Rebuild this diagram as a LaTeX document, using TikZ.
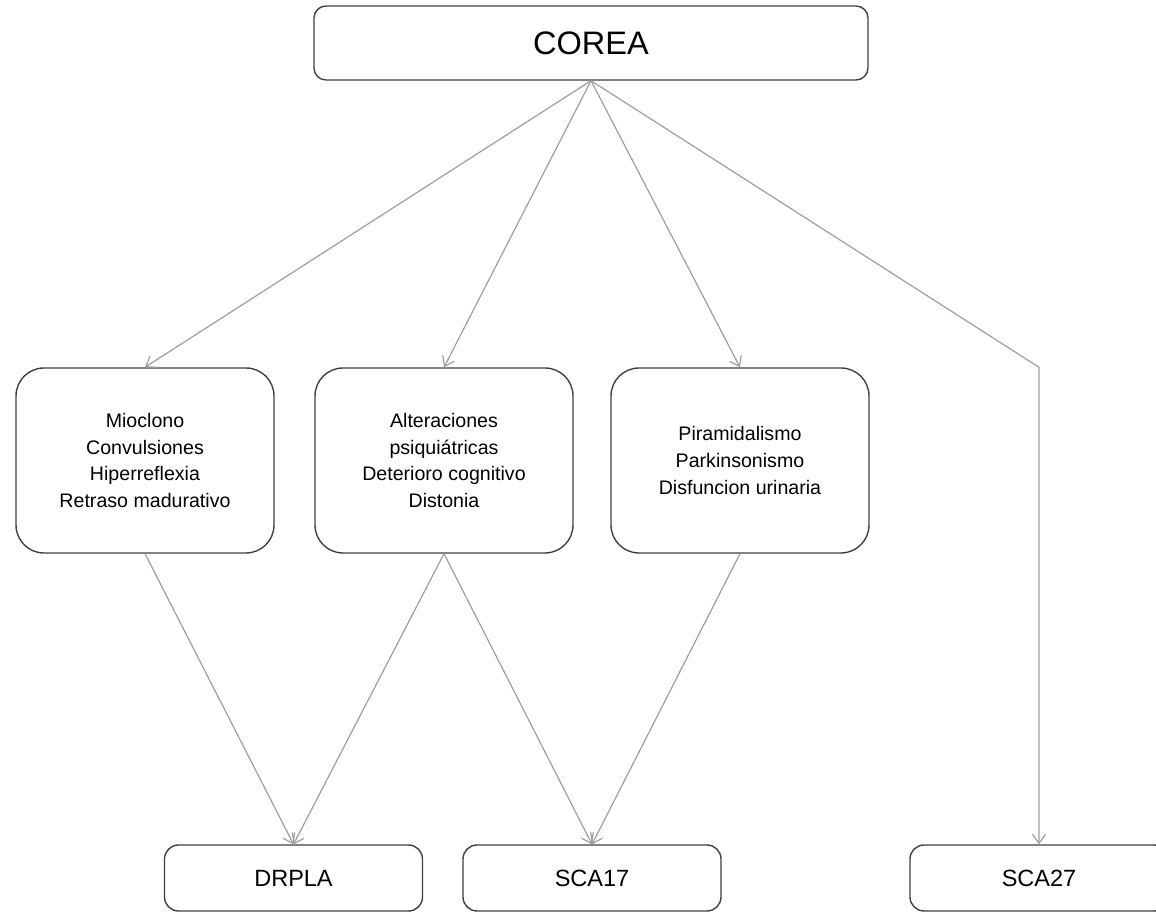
\documentclass[tikz,border=0pt]{standalone}
\usepackage{fontspec}
\setmainfont{Liberation Sans}
\usepackage{tikz}
\usetikzlibrary{arrows.meta}

\begin{document}
\begin{tikzpicture}[x=1pt,y=1pt,
  topbox/.style={draw=black!75, line width=1.4pt, rounded corners=12pt, minimum width=554pt, minimum height=74pt, inner sep=0pt, font=\fontsize{32.5}{38}\selectfont},
  signbox/.style={draw=black!75, line width=1.4pt, rounded corners=28pt, minimum width=258pt, minimum height=185pt, inner sep=0pt, align=center, font=\fontsize{19.6}{26.6}\selectfont},
  genebox/.style={draw=black!75, line width=1.4pt, rounded corners=14pt, minimum width=258pt, minimum height=66pt, inner sep=0pt, font=\fontsize{23.5}{28}\selectfont},
  link/.style={draw=black!38, line width=1.2pt, -{Straight Barb[length=9pt,width=13pt,line width=1.2pt]}}]
\useasboundingbox (0,0) rectangle (1156,912);
\node[topbox] (corea) at (591,869) {COREA};
\node[signbox] (b1) at (145,451.5) {Mioclono\\Convulsiones\\Hiperreflexia\\Retraso madurativo};
\node[signbox] (b2) at (444,451.5) {Alteraciones\\psiquiátricas\\Deterioro cognitivo\\Distonia};
\node[signbox] (b3) at (740,451.5) {Piramidalismo\\Parkinsonismo\\Disfuncion urinaria};
\node[genebox] (drpla) at (293.5,34) {DRPLA};
\node[genebox] (sca17) at (592,34) {SCA17};
\node[genebox] (sca27) at (1039,34) {SCA27};
\coordinate (bend) at (sca27.north |- b1.north);
% from COREA
\draw[link] (corea.south) -- (b1.north);
\draw[link] (corea.south) -- (b2.north);
\draw[link] (corea.south) -- (b3.north);
\draw[link] (corea.south) -- (bend) -- (sca27.north);
% to the genes
\draw[link] (b1.south) -- (drpla.north);
\draw[link] (b2.south) -- (drpla.north);
\draw[link] (b2.south) -- (sca17.north);
\draw[link] (b3.south) -- (sca17.north);
\end{tikzpicture}
\end{document}
